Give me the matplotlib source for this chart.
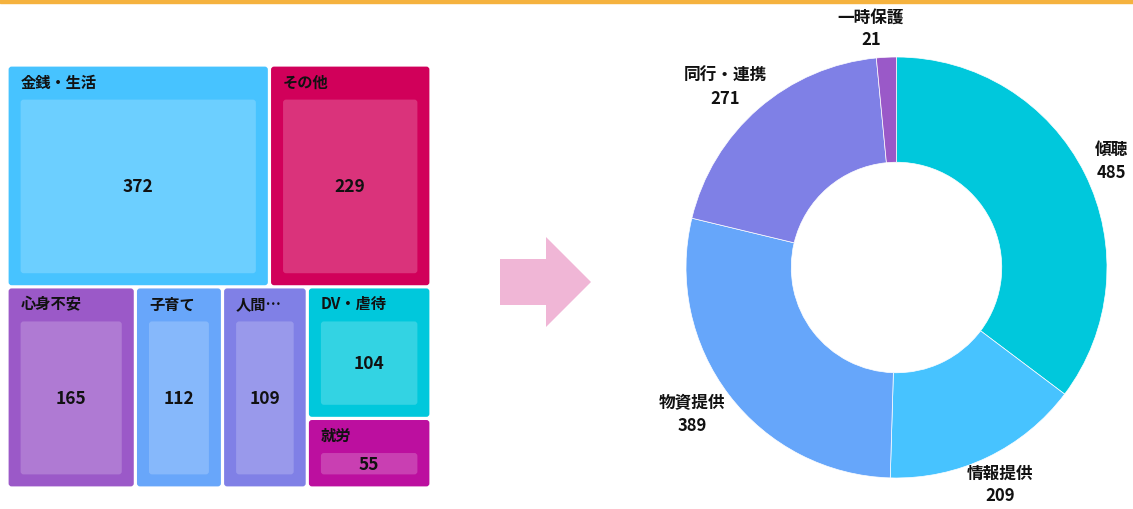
import matplotlib.pyplot as plt
from matplotlib.patches import FancyBboxPatch, Rectangle, Polygon
import numpy as np

plt.rcParams['font.family'] = ['Noto Sans CJK JP', 'DejaVu Sans']

# -----------------------------
# Data
# -----------------------------
tree_labels = ['金銭・生活', 'その他', '心身不安', '子育て', '人間…', 'DV・虐待', '就労']
tree_values = [372, 229, 165, 112, 109, 104, 55]
tree_colors = ['#47C3FF', '#D1005A', '#9B59C8', '#68A6FA', '#8080E6', '#00C8DC', '#BC0F9F']
# strips of the treemap: 'h' = row along the top, 'v' = column on the left
tree_strips = [('h', [0, 1]), ('v', [2]), ('v', [3]), ('v', [4]), ('v', [5, 6])]

pie_labels = ['傾聴', '情報提供', '物資提供', '同行・連携', '一時保護']
pie_values = [485, 209, 389, 271, 21]
pie_colors = ['#00C8DC', '#47C3FF', '#66A6FA', '#7F80E6', '#9A59C8']

W, H = 1133, 510
fig = plt.figure(figsize=(W / 100, H / 100), dpi=100)

# orange line at the top
fig.patches.append(Rectangle((0, 1 - 4 / H), 1, 4 / H, transform=fig.transFigure,
                             color='#F5B23E', zorder=0))


def lighten(c, a=0.2):
    rgb = np.array(plt.matplotlib.colors.to_rgb(c))
    return tuple(rgb + (1 - rgb) * a)


# -----------------------------
# Treemap
# -----------------------------
tx0, tx1, ty0, ty1 = 7, 431, 66, 489
tw, th = tx1 - tx0, ty1 - ty0
ax_t = fig.add_axes([tx0 / W, (H - ty1) / H, tw / W, th / H])
ax_t.set_xlim(0, tw)
ax_t.set_ylim(th, 0)
ax_t.axis('off')

rect = [0.0, 0.0, float(tw), float(th)]  # x, y, w, h of remaining space
remaining = float(sum(tree_values))
half_gap = 1.6
for orient, idxs in tree_strips:
    strip_sum = sum(tree_values[i] for i in idxs)
    x, y, w, h = rect
    if orient == 'h':
        t = h * strip_sum / remaining
        pos = x
        cells = []
        for i in idxs:
            cw = w * tree_values[i] / strip_sum
            cells.append((i, pos, y, cw, t))
            pos += cw
        rect = [x, y + t, w, h - t]
    else:
        t = w * strip_sum / remaining
        pos = y
        cells = []
        for i in idxs:
            ch = h * tree_values[i] / strip_sum
            cells.append((i, x, pos, t, ch))
            pos += ch
        rect = [x + t, y, w - t, h]
    remaining -= strip_sum

    for i, cx, cy, cw, ch in cells:
        bx, by = cx + half_gap, cy + half_gap
        bw, bh = cw - 2 * half_gap, ch - 2 * half_gap
        ax_t.add_patch(FancyBboxPatch((bx, by), bw, bh,
                                      boxstyle='round,pad=0,rounding_size=3',
                                      fc=tree_colors[i], ec='none'))
        # inner box
        ix, iy = bx + 12, by + 33
        iw, ih = bw - 24, bh - 33 - 12
        ax_t.add_patch(FancyBboxPatch((ix, iy), iw, ih,
                                      boxstyle='round,pad=0,rounding_size=3',
                                      fc=lighten(tree_colors[i]), ec='none'))
        ax_t.text(bx + 12, by + 15, tree_labels[i], fontsize=11, fontweight='bold',
                  ha='left', va='center', color='#111111')
        ax_t.text(ix + iw / 2, iy + ih / 2, str(tree_values[i]), fontsize=12.5,
                  fontweight='bold', ha='center', va='center', color='#111111')

# -----------------------------
# Arrow
# -----------------------------
ax_a = fig.add_axes([0, 0, 1, 1])
ax_a.set_xlim(0, W)
ax_a.set_ylim(H, 0)
ax_a.axis('off')
ax_a.add_patch(Polygon([(500, 260), (546, 260), (546, 238), (591, 283),
                        (546, 328), (546, 306), (500, 306)],
                       closed=True, fc='#F0B6D6', ec='none'))

# -----------------------------
# Donut
# -----------------------------
cx, cy, R = 896.5, 268.5, 210.5
lim = 1.35
side = 2 * lim * R
ax_p = fig.add_axes([(cx - side / 2) / W, (H - cy - side / 2) / H, side / W, side / H])
ax_p.pie(pie_values, colors=pie_colors, startangle=90, counterclock=False,
         radius=1, wedgeprops=dict(width=0.5, edgecolor='white', linewidth=0.5))
ax_p.set_xlim(-lim, lim)
ax_p.set_ylim(-lim, lim)
ax_p.set_aspect('equal')
ax_p.axis('off')

total = sum(pie_values)
start = 90.0
for lab, v in zip(pie_labels, pie_values):
    sweep = 360.0 * v / total
    mid = np.deg2rad(start - sweep / 2)
    start -= sweep
    lx = 1.14 * np.cos(mid)
    ly = 1.14 * np.sin(mid)
    if np.cos(mid) < 0:
        lx -= 14 / R  # left-side labels sit a bit further out
    ax_p.text(lx, ly, f'{lab}\n{v}',
              fontsize=12, fontweight='bold', ha='center', va='center',
              linespacing=1.35, color='#111111', clip_on=False)

fig.savefig('out.png', dpi=100)
